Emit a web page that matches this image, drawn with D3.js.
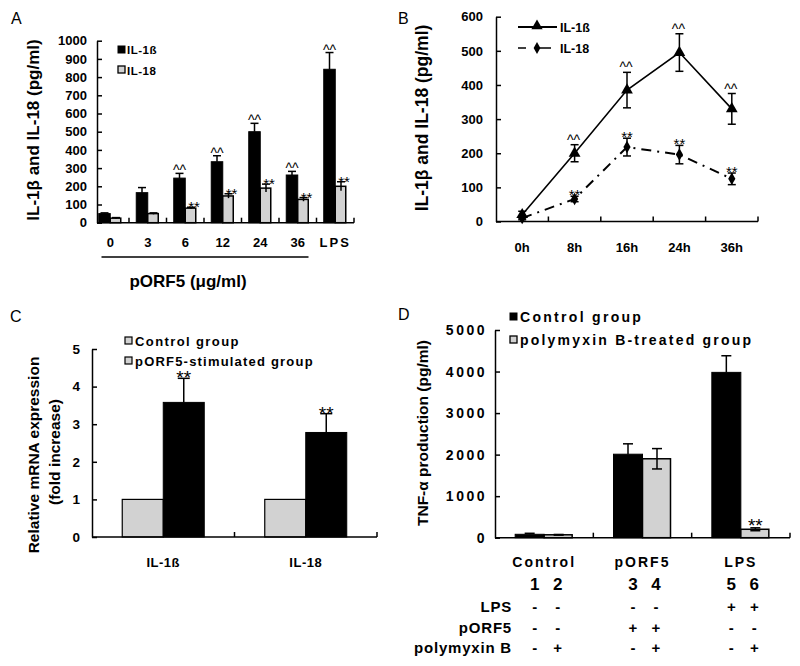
<!DOCTYPE html>
<html><head><meta charset="utf-8">
<script src="https://cdn.jsdelivr.net/npm/d3@7"></script>
<style>
body{margin:0;background:#fff}
text{font-family:"Liberation Sans",Arial,sans-serif;fill:#000}
</style>
</head><body>
<svg id="chart" width="800" height="666"></svg>
<script>
// ---------- Panel A data ----------
const aCategories = ["0","3","6","12","24","36","LPS"];
const aIL1b = [50,165,245,335,500,262,843];
const aIL1bErr = [4,28,26,33,46,20,92];
const aIL18 = [25,50,80,147,190,128,200];
const aIL18Err = [3,4,5,12,22,10,25];
const aIL1bMark = ["","","^^","^^","^^","^^","^^"];
const aIL18Mark = ["","","**","**","**","**","**"];
const aTicks = [0,100,200,300,400,500,600,700,800,900,1000];

// ---------- Panel B data ----------
const bTimes = ["0h","8h","16h","24h","36h"];
const bIL1b = [20,200,385,495,330];
const bIL1bErr = [10,25,52,55,45];
const bIL18 = [10,66,218,196,125];
const bIL18Err = [5,8,26,27,17];
const bIL1bMark = ["","^^","^^","^^","^^"];
const bIL18Mark = ["","**","**","**","**"];
const bTicks = [0,100,200,300,400,500,600];

// ---------- Panel C data ----------
const cGenes = ["IL-1ß","IL-18"];
const cControl = [1,1];
const cPORF5 = [3.58,2.78];
const cPORF5Err = [0.64,0.5];
const cTicks = [0,1,2,3,4,5];

// ---------- Panel D data ----------
const dGroups = ["Control","pORF5","LPS"];
const dControl = [82,2010,3980];
const dControlErr = [24,250,400];
const dPolymyxin = [70,1900,203];
const dPolymyxinErr = [8,245,35];
const dPolyMark = ["","","**"];
const dTicks = [0,1000,2000,3000,4000,5000];
const dLanes = ["1","2","3","4","5","6"];
const dRowLabels = ["LPS","pORF5","polymyxin B"];
const dSigns = [["-","-","-","-","+","+"],["-","-","+","+","-","-"],["-","+","-","+","-","+"]];

const GRAY = "#d2d2d2";
const svg = d3.select("#chart");

function yAxis(scale, x, ticks, pad, fs, ls){
  const g = svg.append("g").attr("transform",`translate(${x},0)`)
    .call(d3.axisLeft(scale).tickValues(ticks).tickFormat(d3.format("d")).tickSize(-5).tickSizeOuter(0).tickPadding(pad));
  g.selectAll("path,line").attr("stroke","#000").attr("stroke-width",1.5);
  g.selectAll("text").attr("font-size",fs).attr("font-weight","bold")
    .attr("font-family","Liberation Sans, Arial, sans-serif").attr("letter-spacing",ls||0);
  return g;
}
function xAxisLine(band, x0, y){
  svg.append("line").attr("x1",x0).attr("x2",band.range()[1]).attr("y1",y).attr("y2",y)
    .attr("stroke","#000").attr("stroke-width",1.5);
  const bounds = band.domain().slice(1).map(d=>band(d)).concat([band.range()[1]]);
  svg.selectAll(null).data(bounds).enter().append("line")
    .attr("x1",d=>d).attr("x2",d=>d).attr("y1",y).attr("y2",y-5)
    .attr("stroke","#000").attr("stroke-width",1.5);
}
function errBar(cx, yTop, yBot, cap, sw){
  svg.append("line").attr("x1",cx).attr("x2",cx).attr("y1",yTop).attr("y2",yBot)
    .attr("stroke","#000").attr("stroke-width",sw||1.5);
  svg.append("line").attr("x1",cx-cap/2).attr("x2",cx+cap/2).attr("y1",yTop).attr("y2",yTop)
    .attr("stroke","#000").attr("stroke-width",sw||1.5);
}
function label(x,y,t,fs,opts){
  opts=opts||{};
  const el = svg.append("text").attr("x",x).attr("y",y).text(t).attr("font-size",fs)
    .attr("font-weight",opts.w||"bold").attr("text-anchor",opts.a||"start")
    .attr("letter-spacing",opts.ls||0);
  if(opts.rot) el.attr("transform",`rotate(-90,${x},${y})`);
  return el;
}

// ================= Panel A =================
{
  const x = d3.scaleBand().domain(aCategories).range([91.5,354]);
  const y = d3.scaleLinear().domain([0,1000]).range([222.7,40.7]);
  const inner = d3.scaleBand().domain(["b","g"]).range([0,23]);
  const off = (x.bandwidth()-23)/2;
  aCategories.forEach((c,i)=>{
    const bx = x(c)+off+inner("b"), gx = x(c)+off+inner("g");
    const w = inner.bandwidth();
    errBar(bx+w/2, y(aIL1b[i]+aIL1bErr[i]), y(aIL1b[i]), 8);
    svg.append("rect").attr("x",bx).attr("y",y(aIL1b[i])).attr("width",w).attr("height",y(0)-y(aIL1b[i]))
      .attr("fill","#000").attr("stroke","#000").attr("stroke-width",1);
    svg.append("rect").attr("x",gx).attr("y",y(aIL18[i])).attr("width",w-1).attr("height",y(0)-y(aIL18[i]))
      .attr("fill",GRAY).attr("stroke","#000").attr("stroke-width",1.5);
    errBar(gx+w/2, y(aIL18[i]+aIL18Err[i]), y(aIL18[i]-aIL18Err[i]), 8);
    if(aIL1bMark[i]) label(bx+w/2, y(aIL1b[i]+aIL1bErr[i])+2, aIL1bMark[i], 14, {a:"middle",w:"normal"});
    if(aIL18Mark[i]) label(gx+w/2+3, y(aIL18[i]+aIL18Err[i])+5, aIL18Mark[i], 15, {a:"middle",w:"normal"});
    label(x(c)+x.bandwidth()/2, 247, c, 13, {a:"middle", ls: c==="LPS"?2:0});
  });
  yAxis(y, 97, aTicks, 10, 13);
  xAxisLine(x, 97, 222.7);
  svg.append("line").attr("x1",x("0")+10).attr("x2",x("36")+x.bandwidth()-8).attr("y1",257).attr("y2",257)
    .attr("stroke","#000").attr("stroke-width",1.5);
  label(188, 287, "pORF5 (μg/ml)", 17, {a:"middle"});
  label(39, 130, "IL-1β and IL-18 (pg/ml)", 17, {a:"middle", rot:true});
  svg.append("rect").attr("x",118).attr("y",46).attr("width",7).attr("height",7).attr("fill","#000").attr("stroke","#000");
  label(127, 54, "IL-1ß", 11.5, {ls:0.5});
  svg.append("rect").attr("x",118).attr("y",66).attr("width",7).attr("height",7).attr("fill",GRAY).attr("stroke","#000").attr("stroke-width",1.3);
  label(127, 75, "IL-18", 11.5, {ls:0.5});
  label(11, 24, "A", 16, {w:"normal"});
}

// ================= Panel B =================
{
  const x = d3.scaleBand().domain(bTimes).range([496,758]);
  const y = d3.scaleLinear().domain([0,600]).range([221.5,16.7]);
  const cx = d => x(d)+x.bandwidth()/2;
  yAxis(y, 496, bTicks, 13, 13);
  xAxisLine(x, 496, 221.5);
  bTimes.forEach(t=>label(cx(t), 252, t, 13, {a:"middle"}));
  const line = d3.line().x((d,i)=>cx(bTimes[i])).y(d=>y(d));
  svg.append("path").attr("d",line(bIL18)).attr("fill","none").attr("stroke","#000")
    .attr("stroke-width",2).attr("stroke-dasharray","10,6,2,6");
  svg.append("path").attr("d",line(bIL1b)).attr("fill","none").attr("stroke","#000").attr("stroke-width",1.6);
  bTimes.forEach((t,i)=>{
    errBar(cx(t), y(bIL1b[i]+bIL1bErr[i]), y(bIL1b[i]-bIL1bErr[i]), 8);
    svg.append("line").attr("x1",cx(t)-4).attr("x2",cx(t)+4).attr("y1",y(bIL1b[i]-bIL1bErr[i])).attr("y2",y(bIL1b[i]-bIL1bErr[i])).attr("stroke","#000").attr("stroke-width",1.5);
    errBar(cx(t), y(bIL18[i]+bIL18Err[i]), y(bIL18[i]-bIL18Err[i]), 8);
    svg.append("line").attr("x1",cx(t)-4).attr("x2",cx(t)+4).attr("y1",y(bIL18[i]-bIL18Err[i])).attr("y2",y(bIL18[i]-bIL18Err[i])).attr("stroke","#000").attr("stroke-width",1.5);
    svg.append("path").attr("d",d3.symbol(d3.symbolTriangle,60)()).attr("transform",`translate(${cx(t)},${y(bIL1b[i])})`).attr("fill","#000");
    svg.append("path").attr("d",d3.symbol(d3.symbolDiamond,45)()).attr("transform",`translate(${cx(t)},${y(bIL18[i])})`).attr("fill","#000");
    if(bIL1bMark[i]) label(cx(t)-1, y(bIL1b[i]+bIL1bErr[i])+0, bIL1bMark[i], 14, {a:"middle",w:"normal"});
    if(bIL18Mark[i]) label(cx(t), y(bIL18[i]+bIL18Err[i])+4, bIL18Mark[i], 15, {a:"middle",w:"normal"});
  });
  svg.append("line").attr("x1",518).attr("x2",557).attr("y1",27).attr("y2",27).attr("stroke","#000").attr("stroke-width",1.8);
  svg.append("path").attr("d",d3.symbol(d3.symbolTriangle,55)()).attr("transform","translate(537,26)").attr("fill","#000");
  label(560, 32, "IL-1ß", 12.5);
  svg.append("line").attr("x1",518).attr("x2",557).attr("y1",48).attr("y2",48).attr("stroke","#000").attr("stroke-width",1.5).attr("stroke-dasharray","8,9,0,0,8,0");
  svg.append("path").attr("d",d3.symbol(d3.symbolDiamond,40)()).attr("transform","translate(537,48)").attr("fill","#000");
  label(560, 53, "IL-18", 12.5);
  label(428, 118, "IL-1β and IL-18 (pg/ml)", 17.5, {a:"middle", rot:true});
  label(398, 24, "B", 16, {w:"normal"});
}

// ================= Panel C =================
{
  const x = d3.scaleBand().domain(cGenes).range([92,377]);
  const y = d3.scaleLinear().domain([0,5]).range([537,349]);
  const inner = d3.scaleBand().domain(["c","p"]).range([0,82]);
  const off = (x.bandwidth()-82)/2;
  cGenes.forEach((g,i)=>{
    const gxp = x(g)+off+inner("c"), bxp = x(g)+off+inner("p"), w = inner.bandwidth();
    svg.append("rect").attr("x",gxp).attr("y",y(cControl[i])).attr("width",w).attr("height",y(0)-y(cControl[i]))
      .attr("fill",GRAY).attr("stroke","#000").attr("stroke-width",1.2);
    errBar(bxp+w/2, y(cPORF5[i]+cPORF5Err[i]), y(cPORF5[i]), 12);
    svg.append("rect").attr("x",bxp).attr("y",y(cPORF5[i])).attr("width",w).attr("height",y(0)-y(cPORF5[i]))
      .attr("fill","#000").attr("stroke","#000");
    label(bxp+w/2, y(cPORF5[i]+cPORF5Err[i])+6, "**", 19, {a:"middle",w:"normal"});
    label(x(g)+x.bandwidth()/2, 567, g, 13, {a:"middle", ls:0.5});
  });
  yAxis(y, 92, cTicks, 12, 13.5);
  xAxisLine(x, 92, 537);
  svg.append("rect").attr("x",125).attr("y",337).attr("width",7).attr("height",7).attr("fill",GRAY).attr("stroke","#000").attr("stroke-width",1.2);
  label(135, 346, "Control group", 13, {ls:1.4});
  svg.append("rect").attr("x",125).attr("y",357).attr("width",7).attr("height",7).attr("fill",GRAY).attr("stroke","#000").attr("stroke-width",1.2);
  label(135, 366, "pORF5-stimulated group", 13, {ls:1.2});
  label(39, 455, "Relative mRNA expression", 15.5, {a:"middle", rot:true});
  label(60, 452, "(fold increase)", 15.5, {a:"middle", rot:true});
  label(10, 322, "C", 16, {w:"normal"});
}

// ================= Panel D =================
{
  const x = d3.scaleBand().domain(dGroups).range([495,790]);
  const y = d3.scaleLinear().domain([0,5000]).range([537.7,330]);
  const inner = d3.scaleBand().domain(["c","p"]).range([0,58]);
  const off = (x.bandwidth()-58)/2;
  const laneX = [];
  dGroups.forEach((g,i)=>{
    const bx = x(g)+off+inner("c"), gx = x(g)+off+inner("p"), w = inner.bandwidth();
    laneX.push(bx+w/2, gx+w/2);
    errBar(bx+w/2, y(dControl[i]+dControlErr[i]), y(dControl[i]), 10);
    svg.append("rect").attr("x",bx).attr("y",y(dControl[i])).attr("width",w).attr("height",y(0)-y(dControl[i]))
      .attr("fill","#000").attr("stroke","#000");
    svg.append("rect").attr("x",gx).attr("y",y(dPolymyxin[i])).attr("width",w-1).attr("height",y(0)-y(dPolymyxin[i]))
      .attr("fill",GRAY).attr("stroke","#000").attr("stroke-width",1.5);
    errBar(gx+w/2, y(dPolymyxin[i]+dPolymyxinErr[i]), y(dPolymyxin[i]-dPolymyxinErr[i]), 10);
    svg.append("line").attr("x1",gx+w/2-5).attr("x2",gx+w/2+5).attr("y1",y(dPolymyxin[i]-dPolymyxinErr[i])).attr("y2",y(dPolymyxin[i]-dPolymyxinErr[i])).attr("stroke","#000").attr("stroke-width",1.5);
    if(dPolyMark[i]) label(gx+w/2, y(dPolymyxin[i]+dPolymyxinErr[i])+4, dPolyMark[i], 19, {a:"middle",w:"normal"});
    label(x(g)+x.bandwidth()/2, 567, g, 14, {a:"middle", ls:2});
  });
  yAxis(y, 495, dTicks, 8, 14, 2.5);
  xAxisLine(x, 495, 537.7);
  dLanes.forEach((l,i)=>label(laneX[i]+ (i%2===0?5:-1), 590, l, 17, {a:"middle"}));
  dRowLabels.forEach((r,ri)=>{
    label(512, 612+ri*20.5, r, 15, {a:"end", ls:0.8});
    dSigns[ri].forEach((s,i)=>label(laneX[i]+(i%2===0?5:-1), 612+ri*20.5, s, 15, {a:"middle"}));
  });
  svg.append("rect").attr("x",510).attr("y",313).attr("width",7).attr("height",7).attr("fill","#000").attr("stroke","#000");
  label(520, 322, "Control group", 14, {ls:2.3});
  svg.append("rect").attr("x",510).attr("y",336).attr("width",7).attr("height",7).attr("fill",GRAY).attr("stroke","#000").attr("stroke-width",1.3);
  label(520, 345, "polymyxin B-treated group", 14, {ls:2.2});
  label(428, 433, "TNF-α production (pg/ml)", 15.5, {a:"middle", rot:true});
  label(398, 320, "D", 16, {w:"normal"});
}
</script>
</body></html>
